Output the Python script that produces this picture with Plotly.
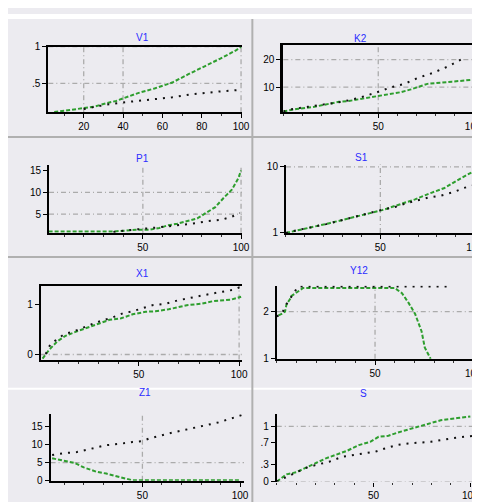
import plotly.graph_objects as go

W, H = 480, 502

# ---------------- data ----------------
titles = ["V1", "K2", "P1", "S1", "X1", "Y12", "Z1", "S"]

p1_green_x = [5, 10, 17, 25, 31.5, 36.5, 40.5, 48, 56, 65, 73, 81.5, 89, 97.6, 100]
p1_green_y = [0.11, 0.13, 0.15, 0.18, 0.23, 0.26, 0.30, 0.37, 0.43, 0.51, 0.62, 0.73, 0.83, 0.95, 1.0]
p1_black_x = [20, 26, 31.5, 40, 48, 55, 65, 74.6, 81, 89.5, 99.5]
p1_black_y = [0.15, 0.18, 0.21, 0.24, 0.26, 0.28, 0.31, 0.35, 0.37, 0.39, 0.41]

p2_green_x = [0, 6.9, 16.4, 22.4, 29.3, 34.5, 48.3, 55.2, 62, 67.2, 75.9, 88.8, 100]
p2_green_y = [1.2, 2.1, 2.9, 3.75, 4.7, 5.0, 6.5, 7.3, 8.2, 9.2, 11.2, 12.0, 12.7]
p2_black_x = [0, 4.3, 12.9, 22.4, 31, 39.7, 48.3, 56.9, 63.8, 70.7, 79.3, 88, 94.5]
p2_black_y = [1.2, 2.0, 2.9, 3.9, 4.7, 6.1, 7.9, 10.0, 11.2, 13.3, 15.3, 17.9, 20.4]

p3_green_x = [2, 35, 46.5, 53.3, 58.4, 62.6, 67.6, 72.6, 77.7, 81.9, 86.9, 91.1, 95.3, 98.6, 100]
p3_green_y = [1.0, 1.0, 1.4, 1.4, 1.8, 2.4, 2.8, 3.4, 4.0, 5.2, 6.6, 8.7, 10.6, 13.2, 15.0]
p3_black_x = [35, 40, 56.7, 68.4, 76.8, 83.5, 90.2, 95.3, 99.5]
p3_black_y = [0.9, 1.2, 1.9, 2.4, 2.9, 3.4, 3.7, 4.4, 5.2]

p4_green_x = [0, 8.2, 14.3, 23, 30, 38.7, 44, 51, 59.7, 68.4, 77, 84, 92.8, 102.4]
p4_green_y = [1.0, 1.44, 1.8, 2.33, 2.77, 3.26, 3.66, 4.1, 4.81, 5.57, 6.46, 7.12, 8.46, 9.8]
p4_black_x = [0, 5.5, 21.3, 30, 37.8, 47.4, 57.9, 64.9, 75.4, 82.3, 89.3, 94.2, 100.7]
p4_black_y = [1.0, 1.35, 2.2, 2.77, 3.35, 3.93, 4.54, 5.13, 5.8, 6.1, 6.59, 7.12, 7.56]

p5_green_x = [2, 5.2, 9.3, 13.4, 19.1, 24, 29.7, 35.4, 41.2, 46.9, 53.4, 58.3, 64.9, 70.6, 73.9, 81.2, 86.9, 95.9, 101]
p5_green_y = [-0.08, 0.09, 0.26, 0.37, 0.46, 0.53, 0.61, 0.69, 0.72, 0.80, 0.85, 0.86, 0.90, 0.95, 0.98, 1.01, 1.06, 1.09, 1.15]
p5_black_x = [3.6, 6, 12.6, 17.5, 28.9, 37.1, 42, 46.9, 56.7, 63.2, 69.8, 80.4, 86.1, 91.8, 97.5, 101]
p5_black_y = [0.01, 0.21, 0.40, 0.46, 0.64, 0.74, 0.82, 0.86, 0.98, 1.01, 1.08, 1.17, 1.21, 1.25, 1.29, 1.35]

p6_green_x = [0.9, 2.5, 4.2, 5, 6.7, 7.5, 13.4, 60, 63.7, 67, 70.4, 73.7, 75.3, 78.3]
p6_green_y = [1.92, 1.95, 2.0, 2.16, 2.26, 2.33, 2.5, 2.5, 2.39, 2.19, 1.95, 1.58, 1.24, 1.0]
p6_black_x = [0, 2.5, 5, 7.5, 10.8, 88.3]
p6_black_y = [1.9, 1.95, 2.16, 2.33, 2.53, 2.53]

p7_green_x = [3.8, 8.5, 15.3, 20, 26.5, 31.5, 36.6, 42.4, 45, 100]
p7_green_y = [6.2, 5.6, 4.9, 3.7, 2.5, 2.0, 1.3, 0.4, 0.15, 0.15]
p7_black_x = [3.8, 9.7, 16.4, 24.8, 31.5, 39, 45, 50, 53.3, 62.6, 66.8, 75.2, 88.6, 95.3, 101]
p7_black_y = [7.1, 7.6, 7.9, 8.9, 9.8, 10.2, 10.7, 10.9, 11.6, 12.9, 13.4, 14.3, 16.0, 17.1, 18.1]

p8_green_x = [0, 5.1, 10.2, 15.3, 20.5, 25.4, 30.5, 36.5, 42.4, 48.3, 52.6, 57.7, 62.7, 67.8, 72.9, 77.1, 84.7, 93.2, 100]
p8_green_y = [0, 0.13, 0.17, 0.26, 0.34, 0.42, 0.48, 0.56, 0.66, 0.72, 0.81, 0.83, 0.89, 0.94, 1.0, 1.04, 1.11, 1.15, 1.18]
p8_black_x = [0, 15.3, 21.2, 27.1, 33.9, 39, 44.9, 50.8, 55.9, 61.9, 67.8, 79.7, 86.4, 91.5, 101.7]
p8_black_y = [0, 0.25, 0.31, 0.36, 0.45, 0.48, 0.51, 0.54, 0.60, 0.66, 0.69, 0.72, 0.76, 0.79, 0.83]

green_x = [p1_green_x, p2_green_x, p3_green_x, p4_green_x, p5_green_x, p6_green_x, p7_green_x, p8_green_x]
green_y = [p1_green_y, p2_green_y, p3_green_y, p4_green_y, p5_green_y, p6_green_y, p7_green_y, p8_green_y]
black_x = [p1_black_x, p2_black_x, p3_black_x, p4_black_x, p5_black_x, p6_black_x, p7_black_x, p8_black_x]
black_y = [p1_black_y, p2_black_y, p3_black_y, p4_black_y, p5_black_y, p6_black_y, p7_black_y, p8_black_y]

x_tickvals = [[20, 40, 60, 80, 100]] + [[50, 100]] * 7
y_tickvals = [[0.5, 1], [10, 20], [5, 10, 15], [1, 10], [0, 1], [1, 2], [0, 5, 10, 15], [0, 0.3, 0.7, 1]]
y_ticktext = [[".5", "1"], ["10", "20"], ["5", "10", "15"], ["1", "10"], ["0", "1"], ["1", "2"],
              ["0", "5", "10", "15"], ["0", ".3", ".7", "1"]]
x_grid = [[20, 40, 100], [50, 100], [50, 100], [50], [100], [50, 100], [50], []]
y_grid = [[0.5, 1], [10, 20], [5, 10], [10], [0], [2], [5], [0, 1]]

# ---------------- layout (pixels) ----------------
x_ranges = [[2, 100.5], [0, 103.6], [2.2, 100.5], [0, 102.8], [1.1, 101.6], [0, 103.4], [3.0, 102], [0, 105]]
y_ranges = [[0.106, 1.0], [0.9, 25.3], [0.74, 16.2], [1, 10.3], [-0.1, 1.37], [1, 2.55], [0, 18.3], [0, 1.22]]
px_x = [(41, 238), (280, 480), (41.7, 238), (282.7, 480), (33.3, 238.3), (273.3, 480), (43.3, 240), (273.3, 480)]
px_y = [(33.3, 100.7), (31.7, 100.7), (155, 224), (154.3, 224.3), (278.3, 354), (278.3, 353.3), (410, 478.3), (410, 479)]
top_line = [True, True, False, False, True, False, False, False]
title_pos = [(128, 16), (367, 17), (128, 140), (368, 139), (128, 266), (368, 263), (131, 395), (367, 396)]

GRID = dict(color="#ABABAB", width=1.3, dash="5px,3px,1px,3px")

fig = go.Figure()
shapes = []
annotations = []
layout = {}

for i in range(8):
    n = i + 1
    xs = "x" if n == 1 else f"x{n}"
    ys = "y" if n == 1 else f"y{n}"
    xk = "xaxis" if n == 1 else f"xaxis{n}"
    yk = "yaxis" if n == 1 else f"yaxis{n}"

    fig.add_trace(go.Scatter(x=green_x[i], y=green_y[i], mode="lines", xaxis=xs, yaxis=ys,
                             line=dict(color="#2E9E2E", width=2, dash="4px,2px"),
                             showlegend=False, hoverinfo="skip"))
    fig.add_trace(go.Scatter(x=black_x[i], y=black_y[i], mode="lines", xaxis=xs, yaxis=ys,
                             line=dict(color="#111111", width=2, dash="2px,6px"),
                             showlegend=False, hoverinfo="skip"))

    x0, x1 = px_x[i]
    y0, y1 = px_y[i]
    layout[xk] = dict(domain=[x0 / W, min(x1 / W, 1.0)], anchor=ys, range=x_ranges[i],
                      showline=(i != 7), linecolor="black", linewidth=2, mirror=top_line[i],
                      showgrid=False, zeroline=False, ticks="outside", ticklen=4, tickwidth=1,
                      tickcolor="black", tickmode="array", tickvals=x_tickvals[i],
                      tickfont=dict(family="Liberation Sans", size=10, color="black"),
                      minor=dict(tickmode="linear", tick0=0, dtick=10, ticks="outside",
                                 ticklen=2, tickcolor="#333333"))
    layout[yk] = dict(domain=[1 - y1 / H, 1 - y0 / H], anchor=xs, range=y_ranges[i],
                      showline=True, linecolor="black", linewidth=3 if i == 1 else 2,
                      showgrid=False, zeroline=False, ticks="outside", ticklen=4, tickwidth=1,
                      tickcolor="black", tickmode="array", tickvals=y_tickvals[i],
                      ticktext=y_ticktext[i],
                      tickfont=dict(family="Liberation Sans", size=10, color="black"))

    for gx in x_grid[i]:
        shapes.append(dict(type="line", xref=xs, yref=f"{ys} domain", x0=gx, x1=gx, y0=0, y1=1,
                           line=GRID, layer="below"))
    for gy in y_grid[i]:
        shapes.append(dict(type="line", xref=f"{xs} domain", yref=ys, x0=0, x1=1, y0=gy, y1=gy,
                           line=GRID, layer="below"))

    tx, ty = title_pos[i]
    annotations.append(dict(text=titles[i], x=tx / W, y=1 - ty / H, xref="paper", yref="paper",
                            showarrow=False, font=dict(family="Liberation Sans", size=10, color="#2B2BFF")))

# panel separators
for yy, col in [(126, "#B0B0B0"), (249, "#B0B0B0"), (384, "#FFFFFF")]:
    shapes.append(dict(type="line", xref="paper", yref="paper", x0=0, x1=1,
                       y0=1 - yy / H, y1=1 - yy / H, line=dict(color=col, width=2), layer="below"))
shapes.append(dict(type="line", xref="paper", yref="paper", x0=248.5 / W, x1=248.5 / W,
                   y0=0, y1=1, line=dict(color="#B0B0B0", width=2), layer="below"))
shapes.append(dict(type="rect", xref="paper", yref="paper", x0=0, x1=1, y0=1 - 5 / H, y1=1,
                   fillcolor="white", line=dict(width=0), layer="below"))

fig.update_layout(width=W, height=H, margin=dict(l=0, r=0, t=0, b=0),
                  paper_bgcolor="#ECEBF0", plot_bgcolor="#ECEBF0",
                  shapes=shapes, annotations=annotations, **layout)

fig.write_html("out.html")
